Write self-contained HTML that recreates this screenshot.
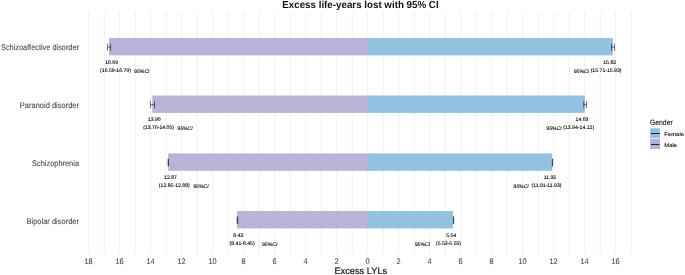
<!DOCTYPE html>
<html><head><meta charset="utf-8"><title>Excess life-years lost with 95% CI</title>
<style>
html,body{margin:0;padding:0;background:#fff;}
svg{display:block;font-family:"Liberation Sans",Arial,sans-serif;text-rendering:geometricPrecision;}
.tk{font-size:7.35px;fill:#4d4d4d;stroke:#4d4d4d;stroke-width:0.1px;}
.dl{font-size:5.15px;fill:#000;stroke:#000;stroke-width:0.1px;}
.ci{font-size:5.15px;fill:#000;font-style:italic;stroke:#000;stroke-width:0.1px;}
.tt{font-size:9.78px;font-weight:bold;fill:#111;}
.ax{font-size:9.25px;fill:#111;stroke:#111;stroke-width:0.18px;}
.lt{font-size:6.85px;fill:#111;stroke:#111;stroke-width:0.08px;}
.lg{font-size:5.95px;fill:#111;stroke:#111;stroke-width:0.12px;}
</style></head><body>
<svg width="685" height="275" viewBox="0 0 685 275">
<rect width="685" height="275" fill="#ffffff"/>

<g stroke="#e9e9e9" stroke-width="0.7">
<line x1="88.70" y1="12" x2="88.70" y2="254.7"/>
<line x1="104.20" y1="12" x2="104.20" y2="254.7"/>
<line x1="119.70" y1="12" x2="119.70" y2="254.7"/>
<line x1="135.20" y1="12" x2="135.20" y2="254.7"/>
<line x1="150.70" y1="12" x2="150.70" y2="254.7"/>
<line x1="166.20" y1="12" x2="166.20" y2="254.7"/>
<line x1="181.70" y1="12" x2="181.70" y2="254.7"/>
<line x1="197.20" y1="12" x2="197.20" y2="254.7"/>
<line x1="212.70" y1="12" x2="212.70" y2="254.7"/>
<line x1="228.20" y1="12" x2="228.20" y2="254.7"/>
<line x1="243.70" y1="12" x2="243.70" y2="254.7"/>
<line x1="259.20" y1="12" x2="259.20" y2="254.7"/>
<line x1="274.70" y1="12" x2="274.70" y2="254.7"/>
<line x1="290.20" y1="12" x2="290.20" y2="254.7"/>
<line x1="305.70" y1="12" x2="305.70" y2="254.7"/>
<line x1="321.20" y1="12" x2="321.20" y2="254.7"/>
<line x1="336.70" y1="12" x2="336.70" y2="254.7"/>
<line x1="352.20" y1="12" x2="352.20" y2="254.7"/>
<line x1="367.70" y1="12" x2="367.70" y2="254.7"/>
<line x1="383.20" y1="12" x2="383.20" y2="254.7"/>
<line x1="398.70" y1="12" x2="398.70" y2="254.7"/>
<line x1="414.20" y1="12" x2="414.20" y2="254.7"/>
<line x1="429.70" y1="12" x2="429.70" y2="254.7"/>
<line x1="445.20" y1="12" x2="445.20" y2="254.7"/>
<line x1="460.70" y1="12" x2="460.70" y2="254.7"/>
<line x1="476.20" y1="12" x2="476.20" y2="254.7"/>
<line x1="491.70" y1="12" x2="491.70" y2="254.7"/>
<line x1="507.20" y1="12" x2="507.20" y2="254.7"/>
<line x1="522.70" y1="12" x2="522.70" y2="254.7"/>
<line x1="538.20" y1="12" x2="538.20" y2="254.7"/>
<line x1="553.70" y1="12" x2="553.70" y2="254.7"/>
<line x1="569.20" y1="12" x2="569.20" y2="254.7"/>
<line x1="584.70" y1="12" x2="584.70" y2="254.7"/>
<line x1="600.20" y1="12" x2="600.20" y2="254.7"/>
<line x1="615.70" y1="12" x2="615.70" y2="254.7"/>
<line x1="631.20" y1="12" x2="631.20" y2="254.7"/>
</g>
<text class="tt" text-anchor="middle" transform="translate(360.45,7.75) scale(1,1.040)">Excess life-years lost with 95% CI</text>
<rect x="109.00" y="37.95" width="259.69" height="17.40" fill="#b9b4d7"/>
<rect x="367.70" y="37.95" width="245.21" height="17.40" fill="#93c2e0"/>
<rect x="152.25" y="95.50" width="216.45" height="17.40" fill="#b9b4d7"/>
<rect x="367.70" y="95.50" width="217.16" height="17.40" fill="#93c2e0"/>
<rect x="168.22" y="153.40" width="200.48" height="17.40" fill="#b9b4d7"/>
<rect x="367.70" y="153.40" width="184.51" height="17.40" fill="#93c2e0"/>
<rect x="237.03" y="211.05" width="131.66" height="17.40" fill="#b9b4d7"/>
<rect x="367.70" y="211.05" width="85.37" height="17.40" fill="#93c2e0"/>
<g stroke="#111" stroke-width="0.6" fill="none">
<path d="M107.45 43.45V50.85M110.65 43.45V50.85M107.45 47.15H110.65"/>
<path d="M611.55 43.45V50.85M614.55 43.45V50.85M611.55 47.15H614.55"/>
<path d="M150.40 101.00V108.40M154.50 101.00V108.40M150.40 104.70H154.50"/>
<path d="M583.77 101.00V108.40M586.56 101.00V108.40M583.77 104.70H586.56"/>
<path d="M168.06 158.90V166.30M168.53 158.90V166.30M168.06 162.60H168.53"/>
<path d="M552.30 158.90V166.30M552.62 158.90V166.30M552.30 162.60H552.62"/>
<path d="M237.12 216.55V223.95M237.75 216.55V223.95M237.12 220.25H237.75"/>
<path d="M453.41 216.55V223.95M453.72 216.55V223.95M453.41 220.25H453.72"/>
</g>
<text class="tk" text-anchor="end" transform="translate(79.00,50.45) scale(1,1.099)" style="font-size:7.36px">Schizoaffective disorder</text>
<text class="tk" text-anchor="end" transform="translate(79.00,108.00) scale(1,1.078)" style="font-size:7.50px">Paranoid disorder</text>
<text class="tk" text-anchor="end" transform="translate(79.00,165.90) scale(1,1.090)" style="font-size:7.42px">Schizophrenia</text>
<text class="tk" text-anchor="end" transform="translate(79.00,223.55) scale(1,1.078)" style="font-size:7.50px">Bipolar disorder</text>
<text class="tk" text-anchor="middle" transform="translate(88.50,264.10) scale(1,1.100)">18</text>
<text class="tk" text-anchor="middle" transform="translate(119.50,264.10) scale(1,1.100)">16</text>
<text class="tk" text-anchor="middle" transform="translate(150.50,264.10) scale(1,1.100)">14</text>
<text class="tk" text-anchor="middle" transform="translate(181.50,264.10) scale(1,1.100)">12</text>
<text class="tk" text-anchor="middle" transform="translate(212.50,264.10) scale(1,1.100)">10</text>
<text class="tk" text-anchor="middle" transform="translate(243.50,264.10) scale(1,1.100)">8</text>
<text class="tk" text-anchor="middle" transform="translate(274.50,264.10) scale(1,1.100)">6</text>
<text class="tk" text-anchor="middle" transform="translate(305.50,264.10) scale(1,1.100)">4</text>
<text class="tk" text-anchor="middle" transform="translate(336.50,264.10) scale(1,1.100)">2</text>
<text class="tk" text-anchor="middle" transform="translate(367.50,264.10) scale(1,1.100)">0</text>
<text class="tk" text-anchor="middle" transform="translate(398.50,264.10) scale(1,1.100)">2</text>
<text class="tk" text-anchor="middle" transform="translate(429.50,264.10) scale(1,1.100)">4</text>
<text class="tk" text-anchor="middle" transform="translate(460.50,264.10) scale(1,1.100)">6</text>
<text class="tk" text-anchor="middle" transform="translate(491.50,264.10) scale(1,1.100)">8</text>
<text class="tk" text-anchor="middle" transform="translate(522.50,264.10) scale(1,1.100)">10</text>
<text class="tk" text-anchor="middle" transform="translate(553.50,264.10) scale(1,1.100)">12</text>
<text class="tk" text-anchor="middle" transform="translate(584.50,264.10) scale(1,1.100)">14</text>
<text class="tk" text-anchor="middle" transform="translate(615.50,264.10) scale(1,1.100)">16</text>
<text class="ax" text-anchor="middle" transform="translate(360.80,273.60) scale(1,1.030)">Excess LYLs</text>
<text class="dl" text-anchor="middle" transform="translate(111.60,63.70) scale(1,1.000)">16.69</text>
<text class="dl" text-anchor="middle" transform="translate(115.50,71.90) scale(1,1.000)">(16.59-16.79)</text>
<text class="ci" transform="translate(134.10,72.75) scale(1,1.000)">95%CI</text>
<text class="dl" text-anchor="middle" transform="translate(609.70,63.70) scale(1,1.000)">15.82</text>
<text class="dl" text-anchor="middle" transform="translate(606.10,71.90) scale(1,1.000)">(15.71-15.93)</text>
<text class="ci" text-anchor="end" transform="translate(589.20,72.75) scale(1,1.000)">95%CI</text>
<text class="dl" text-anchor="middle" transform="translate(154.30,121.25) scale(1,1.000)">13.90</text>
<text class="dl" text-anchor="middle" transform="translate(158.60,129.45) scale(1,1.000)">(13.76-14.05)</text>
<text class="ci" transform="translate(177.30,130.30) scale(1,1.000)">95%CI</text>
<text class="dl" text-anchor="middle" transform="translate(582.00,121.25) scale(1,1.000)">14.03</text>
<text class="dl" text-anchor="middle" transform="translate(578.70,129.45) scale(1,1.000)">(13.94-14.12)</text>
<text class="ci" text-anchor="end" transform="translate(561.80,130.30) scale(1,1.000)">95%CI</text>
<text class="dl" text-anchor="middle" transform="translate(170.50,179.15) scale(1,1.000)">12.87</text>
<text class="dl" text-anchor="middle" transform="translate(174.30,187.35) scale(1,1.000)">(12.85-12.88)</text>
<text class="ci" transform="translate(193.20,188.20) scale(1,1.000)">95%CI</text>
<text class="dl" text-anchor="middle" transform="translate(549.90,179.15) scale(1,1.000)">11.92</text>
<text class="dl" text-anchor="middle" transform="translate(546.50,187.35) scale(1,1.000)">(11.91-11.93)</text>
<text class="ci" text-anchor="end" transform="translate(528.80,188.20) scale(1,1.000)">95%CI</text>
<text class="dl" text-anchor="middle" transform="translate(238.20,236.80) scale(1,1.000)">8.43</text>
<text class="dl" text-anchor="middle" transform="translate(242.10,245.00) scale(1,1.000)">(8.41-8.45)</text>
<text class="ci" transform="translate(262.00,245.85) scale(1,1.000)">95%CI</text>
<text class="dl" text-anchor="middle" transform="translate(451.20,236.80) scale(1,1.000)">5.54</text>
<text class="dl" text-anchor="middle" transform="translate(448.50,245.00) scale(1,1.000)">(5.53-5.55)</text>
<text class="ci" text-anchor="end" transform="translate(430.15,245.85) scale(1,1.000)">95%CI</text>
<text class="lt" transform="translate(649.90,124.65) scale(1,1.120)">Gender</text>
<rect x="650.1" y="128.3" width="9.9" height="9.9" fill="#93c2e0"/>
<rect x="650.1" y="139.0" width="9.9" height="10" fill="#b9b4d7"/>
<g stroke="#000" stroke-width="0.85"><line x1="651" y1="133.5" x2="659.6" y2="133.5"/><line x1="651" y1="144.45" x2="659.6" y2="144.45"/></g>
<text class="lg" transform="translate(664.20,135.90) scale(1,0.900)">Female</text>
<text class="lg" transform="translate(664.20,146.80) scale(1,0.900)">Male</text>
</svg></body></html>
